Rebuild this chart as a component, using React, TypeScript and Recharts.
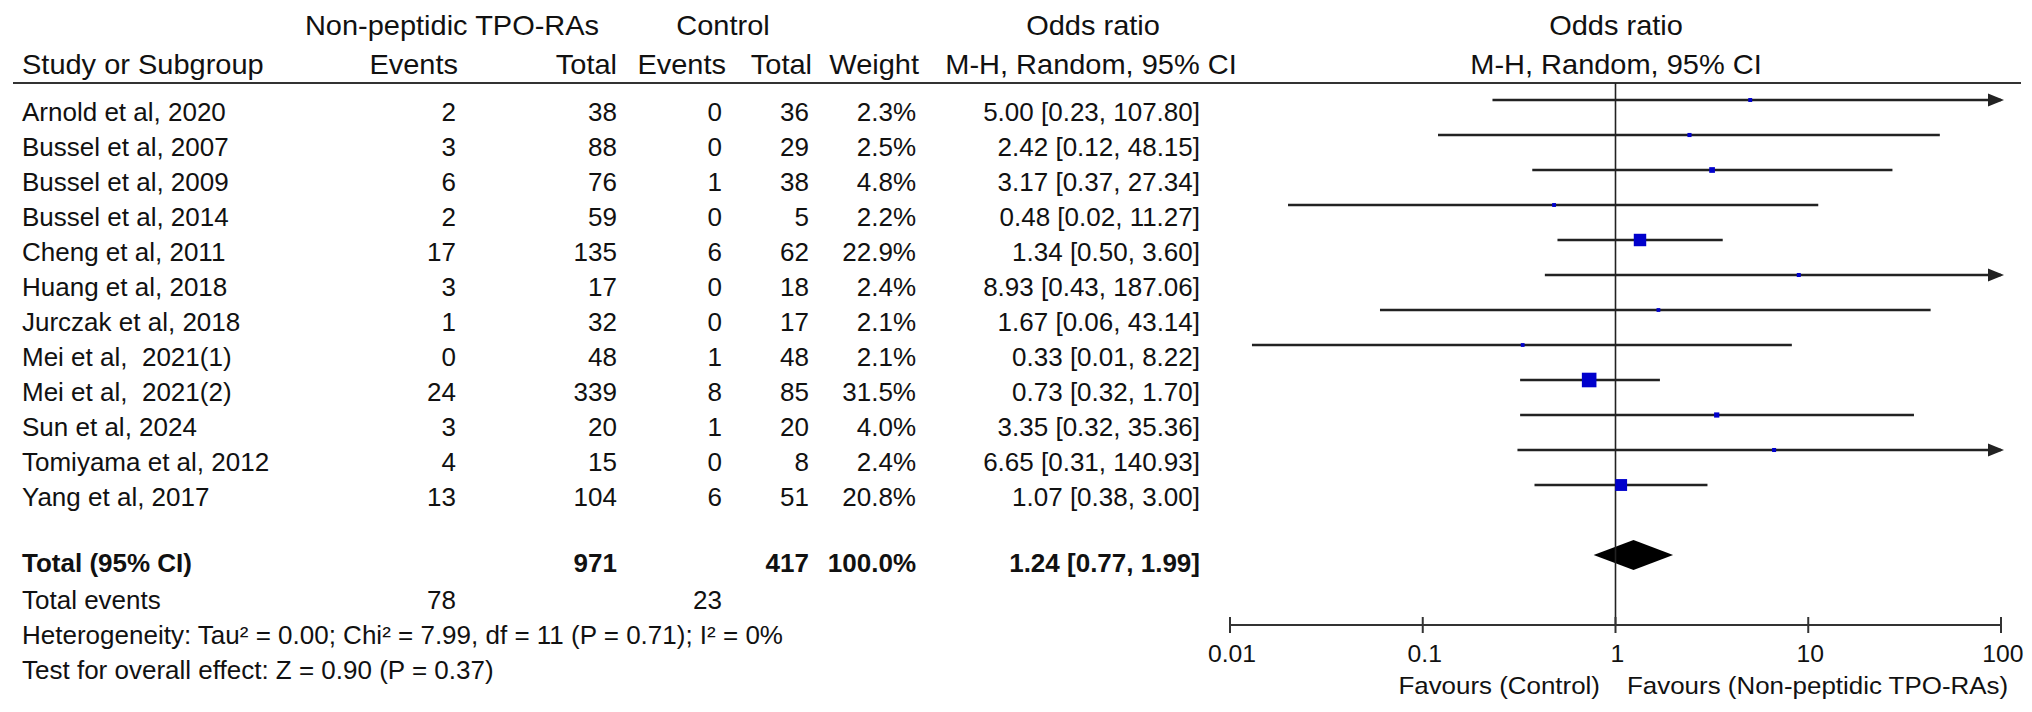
import React from 'react';
import { ComposedChart, XAxis, YAxis, Scatter, ErrorBar, ReferenceLine, Area, Customized } from 'recharts';

const W = 2032;
const H = 712;
const FONT = '"Liberation Sans", Arial, Helvetica, sans-serif';
const FS = 26; // table rows
const HFS = 27; // header rows
const HSX = 1.074; // header horizontal stretch

// ---- data ----
const studies = [
  'Arnold et al, 2020',
  'Bussel et al, 2007',
  'Bussel et al, 2009',
  'Bussel et al, 2014',
  'Cheng et al, 2011',
  'Huang et al, 2018',
  'Jurczak et al, 2018',
  'Mei et al,  2021(1)',
  'Mei et al,  2021(2)',
  'Sun et al, 2024',
  'Tomiyama et al, 2012',
  'Yang et al, 2017',
];
const eventsTpo = [2, 3, 6, 2, 17, 3, 1, 0, 24, 3, 4, 13];
const totalTpo = [38, 88, 76, 59, 135, 17, 32, 48, 339, 20, 15, 104];
const eventsCtl = [0, 0, 1, 0, 6, 0, 0, 1, 8, 1, 0, 6];
const totalCtl = [36, 29, 38, 5, 62, 18, 17, 48, 85, 20, 8, 51];
const weights = [2.3, 2.5, 4.8, 2.2, 22.9, 2.4, 2.1, 2.1, 31.5, 4.0, 2.4, 20.8];
const oddsRatio = [5.0, 2.42, 3.17, 0.48, 1.34, 8.93, 1.67, 0.33, 0.73, 3.35, 6.65, 1.07];
const ciLow = [0.23, 0.12, 0.37, 0.02, 0.5, 0.43, 0.06, 0.013, 0.32, 0.32, 0.31, 0.38];
const ciHigh = [107.8, 48.15, 27.34, 11.27, 3.6, 187.06, 43.14, 8.22, 1.7, 35.36, 140.93, 3.0];
const pooled = { or: 1.24, lo: 0.77, hi: 1.99 };
const axisTicks = [0.01, 0.1, 1, 10, 100];
const heterogeneityText = 'Heterogeneity: Tau\u00B2 = 0.00; Chi\u00B2 = 7.99, df = 11 (P = 0.71); I\u00B2 = 0%';
const overallText = 'Test for overall effect: Z = 0.90 (P = 0.37)';
const favourLeft = 'Favours (Control)';
const favourRight = 'Favours (Non-peptidic TPO-RAs)';
const totalRow = 13;

const X_MIN = 0.01;
const X_MAX = 100;

const fmt = (v: number) => v.toFixed(2);
const sum = (a: number[]) => a.reduce((s, v) => s + v, 0);

const rows = studies.map((name, i) => ({
  name,
  row: i,
  x: oddsRatio[i],
  ev1: eventsTpo[i],
  tot1: totalTpo[i],
  ev2: eventsCtl[i],
  tot2: totalCtl[i],
  weight: weights[i],
  ciText: `${fmt(oddsRatio[i])} [${fmt(ciLow[i])}, ${fmt(ciHigh[i])}]`,
  err: [oddsRatio[i] - Math.max(ciLow[i], X_MIN), Math.min(ciHigh[i], X_MAX) - oddsRatio[i]],
  clipped: ciHigh[i] > X_MAX,
}));

const arrows = rows.filter((r) => r.clipped).map((r) => ({ x: X_MAX, row: r.row }));

const DH = 0.43;
const diamond = [
  { x: pooled.lo, r: [totalRow, totalRow] },
  { x: pooled.or, r: [totalRow - DH, totalRow + DH] },
  { x: pooled.hi, r: [totalRow, totalRow] },
];

// ---- layout (pixels) ----
const COL = { name: 22, ev1: 456, tot1: 617, ev2: 722, tot2: 809, wt: 916, ci: 1200 };
const HEAD = { ev1: 458, tot1: 617, ev2: 726, tot2: 812, wt: 919 };
const PLOT_LEFT = 1230;
const PLOT_RIGHT = 31;
const PLOT_TOP = 83;
const AXIS_H = 87;
const Y_DOMAIN: [number, number] = [-17 / 35, 15];

const Txt = (p: {
  x: number;
  y: number;
  anchor?: 'start' | 'middle' | 'end';
  bold?: boolean;
  size?: number;
  sx?: number;
  children: React.ReactNode;
}) => (
  <text
    transform={`translate(${p.x} ${p.y}) scale(${p.sx ?? 1} 1)`}
    x={0}
    y={0}
    textAnchor={p.anchor ?? 'start'}
    fontFamily={FONT}
    fontSize={p.size ?? FS}
    fontWeight={p.bold ? 700 : 400}
    fill="#111"
    style={{ whiteSpace: 'pre' }}
  >
    {p.children}
  </text>
);

const HTxt = (p: { x: number; y: number; anchor?: 'start' | 'middle' | 'end'; children: React.ReactNode }) => (
  <Txt x={p.x} y={p.y} anchor={p.anchor} size={HFS} sx={HSX}>
    {p.children}
  </Txt>
);

const RowText = (props: any) => {
  const { cy, payload } = props;
  if (cy == null || !payload) return <g />;
  const y = cy + 21;
  return (
    <g>
      <Txt x={COL.name} y={y}>{payload.name}</Txt>
      <Txt x={COL.ev1} y={y} anchor="end">{payload.ev1}</Txt>
      <Txt x={COL.tot1} y={y} anchor="end">{payload.tot1}</Txt>
      <Txt x={COL.ev2} y={y} anchor="end">{payload.ev2}</Txt>
      <Txt x={COL.tot2} y={y} anchor="end">{payload.tot2}</Txt>
      <Txt x={COL.wt} y={y} anchor="end">{`${payload.weight.toFixed(1)}%`}</Txt>
      <Txt x={COL.ci} y={y} anchor="end">{payload.ciText}</Txt>
    </g>
  );
};

const Marker = (props: any) => {
  const { cx, cy, payload } = props;
  if (cx == null || cy == null) return <g />;
  const s = 2.6 * Math.sqrt(payload.weight);
  return <rect x={cx - s / 2} y={cy - s / 2} width={s} height={s} fill="#0000CC" />;
};

const Arrow = (props: any) => {
  const { cx, cy } = props;
  if (cx == null || cy == null) return <g />;
  return <polygon points={`${cx + 3},${cy} ${cx - 13},${cy - 6.5} ${cx - 13},${cy + 6.5}`} fill="#222" />;
};

const NoDot = () => <g />;

const AxisTick = (props: any) => {
  const { x, y, payload } = props;
  return (
    <g>
      <line x1={x} x2={x} y1={y - 8} y2={y + 8} stroke="#333" strokeWidth={2} />
      <Txt x={x + 2} y={y + 37} anchor="middle" size={24} sx={1.03}>{String(payload.value)}</Txt>
    </g>
  );
};

const Static = () => (
  <g>
    {/* header */}
    <HTxt x={452} y={35} anchor="middle">Non-peptidic TPO-RAs</HTxt>
    <HTxt x={723} y={35} anchor="middle">Control</HTxt>
    <HTxt x={1093} y={35} anchor="middle">Odds ratio</HTxt>
    <HTxt x={1616} y={35} anchor="middle">Odds ratio</HTxt>
    <HTxt x={COL.name} y={74}>Study or Subgroup</HTxt>
    <HTxt x={HEAD.ev1} y={74} anchor="end">Events</HTxt>
    <HTxt x={HEAD.tot1} y={74} anchor="end">Total</HTxt>
    <HTxt x={HEAD.ev2} y={74} anchor="end">Events</HTxt>
    <HTxt x={HEAD.tot2} y={74} anchor="end">Total</HTxt>
    <HTxt x={HEAD.wt} y={74} anchor="end">Weight</HTxt>
    <HTxt x={1091} y={74} anchor="middle">M-H, Random, 95% CI</HTxt>
    <HTxt x={1616} y={74} anchor="middle">M-H, Random, 95% CI</HTxt>
    <line x1={13} x2={2021} y1={83} y2={83} stroke="#333" strokeWidth={2} />

    {/* totals */}
    <Txt x={COL.name} y={572} bold>Total (95% CI)</Txt>
    <Txt x={COL.tot1} y={572} anchor="end" bold>{sum(totalTpo)}</Txt>
    <Txt x={COL.tot2} y={572} anchor="end" bold>{sum(totalCtl)}</Txt>
    <Txt x={COL.wt} y={572} anchor="end" bold>{`${sum(weights).toFixed(1)}%`}</Txt>
    <Txt x={COL.ci} y={572} anchor="end" bold>{`${fmt(pooled.or)} [${fmt(pooled.lo)}, ${fmt(pooled.hi)}]`}</Txt>
    <Txt x={COL.name} y={609}>Total events</Txt>
    <Txt x={COL.ev1} y={609} anchor="end">{sum(eventsTpo)}</Txt>
    <Txt x={COL.ev2} y={609} anchor="end">{sum(eventsCtl)}</Txt>
    <Txt x={COL.name} y={644}>{heterogeneityText}</Txt>
    <Txt x={COL.name} y={679}>{overallText}</Txt>

    {/* favours */}
    <Txt x={1600} y={694} anchor="end" size={24} sx={1.08}>{favourLeft}</Txt>
    <Txt x={1627} y={694} size={24} sx={1.08}>{favourRight}</Txt>
  </g>
);

export default function App() {
  return (
    <div style={{ width: W, height: H }}>
      <style>{'body{margin:0;}'}</style>
      <ComposedChart
        width={W}
        height={H}
        margin={{ top: PLOT_TOP, right: PLOT_RIGHT, bottom: 0, left: PLOT_LEFT }}
      >
        <XAxis
          dataKey="x"
          type="number"
          scale="log"
          domain={[X_MIN, X_MAX]}
          ticks={axisTicks}
          interval={0}
          height={AXIS_H}
          tickSize={0}
          tickMargin={0}
          tickLine={false}
          axisLine={{ stroke: '#333', strokeWidth: 2 }}
          tick={<AxisTick />}
        />
        <YAxis dataKey="row" type="number" domain={Y_DOMAIN} reversed hide width={0} />
        <Customized component={<Static />} />
        <ReferenceLine x={1} stroke="#222" strokeWidth={1.6} />
        <Area
          data={diamond}
          dataKey="r"
          type="linear"
          stroke="none"
          fill="#000"
          fillOpacity={1}
          dot={false}
          activeDot={false}
          isAnimationActive={false}
        />
        <Scatter data={rows} shape={<NoDot />} isAnimationActive={false}>
          <ErrorBar dataKey="err" direction="x" width={0} stroke="#222" strokeWidth={2.4} isAnimationActive={false} />
        </Scatter>
        <Scatter data={arrows} shape={<Arrow />} isAnimationActive={false} />
        <Scatter data={rows} shape={<Marker />} isAnimationActive={false} />
        <Scatter data={rows} shape={<RowText />} isAnimationActive={false} />
      </ComposedChart>
    </div>
  );
}
